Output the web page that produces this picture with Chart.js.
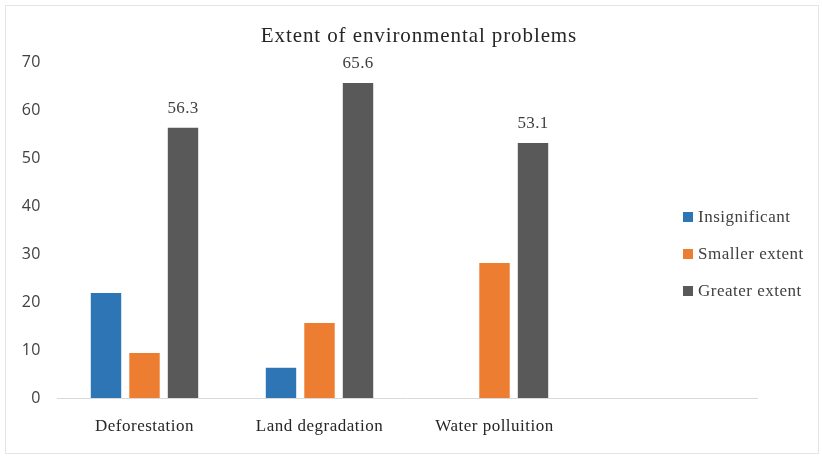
<!DOCTYPE html>
<html>
<head>
<meta charset="utf-8">
<script src="https://cdn.jsdelivr.net/npm/chart.js@4.4.1/dist/chart.umd.min.js"></script>
<style>
  html, body { margin: 0; padding: 0; background: #fff; }
  #wrap { position: relative; width: 822px; height: 457px; }
  #frame { position: absolute; left: 5px; top: 5px; right: 3px; bottom: 3px; border: 1px solid #e4e4e4; pointer-events: none; }
  #title { position: absolute; left: 0; width: 838px; top: 22px; text-align: center; font-family: "Liberation Serif", serif; font-size: 21px; letter-spacing: 0.9px; color: #262626; line-height: 26px; }
  #legend { position: absolute; left: 683px; top: 198px; font-family: "Liberation Serif", serif; font-size: 17px; letter-spacing: 0.5px; color: #404040; }
  #legend .item { display: flex; align-items: center; height: 37px; }
  #legend .sw { width: 10px; height: 10px; margin-right: 5px; }
</style>
</head>
<body>
<div id="wrap">
  <canvas id="c" width="822" height="457"></canvas>
  <div id="frame"></div>
  <div id="title">Extent of environmental problems</div>
  <div id="legend"></div>
</div>
<script>
const categories = ['Deforestation', 'Land degradation', 'Water polluition', ''];
const seriesNames = ['Insignificant', 'Smaller extent', 'Greater extent'];
const insignificant = [21.9, 6.3, 0];
const smallerExtent = [9.4, 15.6, 28.1];
const greaterExtent = [56.3, 65.6, 53.1];
const yTicks = [0, 10, 20, 30, 40, 50, 60, 70];
const colors = ['#2E75B6', '#ED7D31', '#595959'];

const serif = '"Liberation Serif", serif';
const sans = '"Open Sans", sans-serif';

const spacing = {
  id: 'spacing',
  beforeDraw(chart) { chart.ctx.letterSpacing = '0.5px'; }
};

const valueLabels = {
  id: 'valueLabels',
  afterDatasetsDraw(chart) {
    const ctx = chart.ctx;
    const meta = chart.getDatasetMeta(2);
    ctx.save();
    ctx.letterSpacing = '0.3px';
    ctx.font = '17px ' + serif;
    ctx.fillStyle = '#404040';
    ctx.textAlign = 'center';
    ctx.textBaseline = 'bottom';
    meta.data.forEach((bar, i) => {
      const v = chart.data.datasets[2].data[i];
      if (v == null) return;
      ctx.fillText(v.toFixed(1), bar.x, bar.y - 11);
    });
    ctx.restore();
  }
};

const chart = new Chart(document.getElementById('c'), {
  type: 'bar',
  data: {
    labels: categories,
    datasets: [
      { label: seriesNames[0], data: insignificant, backgroundColor: colors[0] },
      { label: seriesNames[1], data: smallerExtent, backgroundColor: colors[1] },
      { label: seriesNames[2], data: greaterExtent, backgroundColor: colors[2] }
    ]
  },
  options: {
    responsive: false,
    animation: false,
    devicePixelRatio: 1,
    layout: { padding: { left: 0, right: 65, top: 62, bottom: 0 } },
    datasets: { bar: { categoryPercentage: 0.66, barPercentage: 0.79 } },
    plugins: {
      legend: { display: false },
      tooltip: { enabled: false },
      title: { display: false }
    },
    scales: {
      x: {
        grid: { display: false },
        border: { display: true, color: '#d9d9d9', width: 1 },
        ticks: { color: '#262626', font: { family: serif, size: 17 }, padding: 10, maxRotation: 0 },
        afterFit(s) { s.height = 59; }
      },
      y: {
        min: 0, max: 70,
        grid: { display: false },
        border: { display: false },
        afterBuildTicks(s) { s.ticks = yTicks.map(v => ({ value: v })); },
        ticks: { color: '#404040', font: { family: sans, size: 16 }, padding: 8 },
        afterFit(s) { s.width = 57; }
      }
    }
  },
  plugins: [spacing, valueLabels]
});

const legend = document.getElementById('legend');
seriesNames.forEach((n, i) => {
  const d = document.createElement('div');
  d.className = 'item';
  d.innerHTML = '<span class="sw" style="background:' + colors[i] + '"></span><span>' + n + '</span>';
  legend.appendChild(d);
});
</script>
</body>
</html>
